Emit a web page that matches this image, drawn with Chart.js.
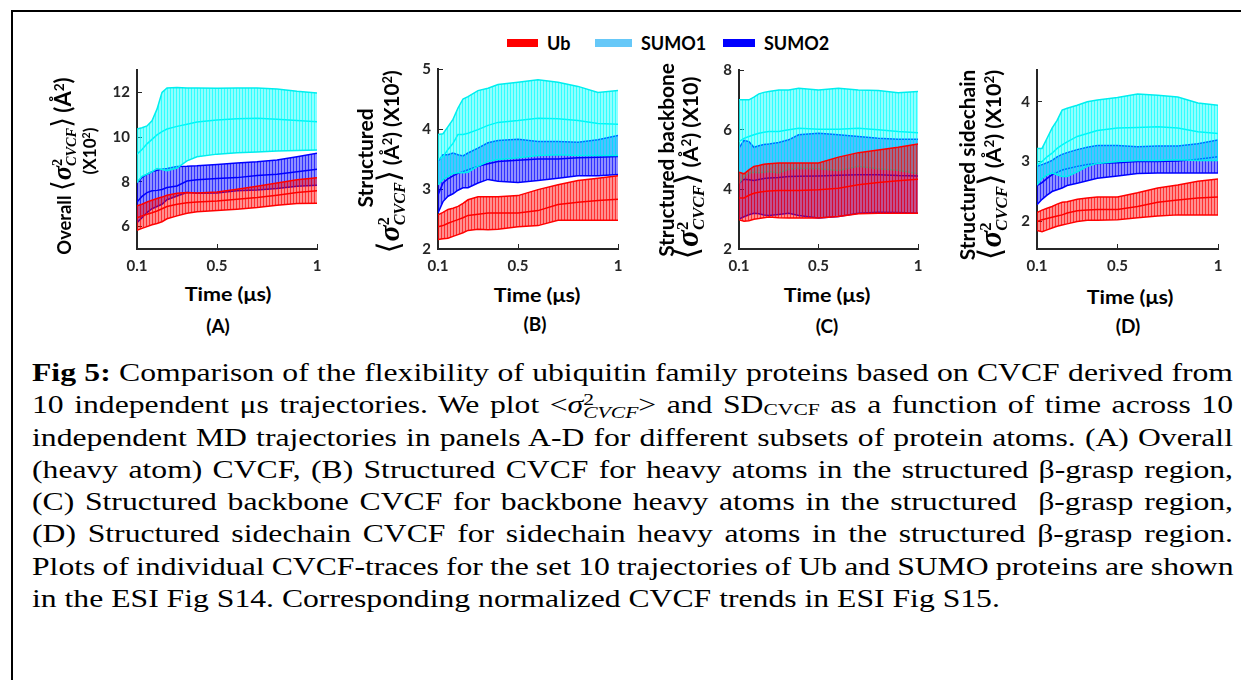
<!DOCTYPE html>
<html>
<head>
<meta charset="utf-8">
<script src="https://cdn.jsdelivr.net/npm/chart.js@4.4.0/dist/chart.umd.min.js"></script>
<style>
  body { margin:0; width:1241px; height:680px; background:#fff; position:relative; overflow:hidden;
         font-family: Lato, "DejaVu Sans", sans-serif; }
  .frame { position:absolute; left:11px; top:10px; right:-10px; bottom:-10px;
           border-top:2px solid #000; border-left:2px solid #000; }
  canvas.panel { position:absolute; }
  .ytitle { position:absolute; width:260px; transform:translate(-50%,-50%) rotate(-90deg); white-space:nowrap;
            text-align:center; font-weight:bold; color:#000; font-size:20px; }
  .yl { text-align:center; }
  .fit { display:inline-block; white-space:nowrap; position:relative; }
  .ctr { position:absolute; transform:translate(-50%,-50%); white-space:nowrap;
         font-weight:bold; font-size:19px; color:#000; }
  .ang { font-family:"DejaVu Sans"; font-weight:normal; font-size:1.5em; line-height:0; }
  .sg { font-family:"Liberation Serif"; font-style:italic; font-weight:bold; font-size:1.45em; line-height:0; }
  .sp { font-family:"Liberation Serif"; font-weight:bold; font-size:0.78em; position:relative; top:-0.6em;
        margin-right:-0.5em; line-height:0; }
  .ss { font-family:"Liberation Serif"; font-style:italic; font-weight:bold; font-size:0.78em;
        position:relative; top:0.35em; line-height:0; }
  .up { font-size:0.62em; position:relative; top:-0.55em; line-height:0; }
  .big { font-size:1.2em; line-height:0; }
  .legend { position:absolute; top:33px; left:0; height:20px; }
  .litem { position:absolute; top:0; height:20px; display:flex; align-items:center;
           font-weight:bold; font-size:18px; color:#000; white-space:nowrap; }
  .sw { display:inline-block; height:8px; margin-right:9px; }
  .caption { position:absolute; left:32px; top:357px; transform-origin:0 0;
             font-family:"Liberation Serif", serif; font-size:25px; color:#000; }
  .cl { height:32.3px; line-height:32.3px; white-space:nowrap; text-align:left; }
  .csg { font-style:italic; }
  .csp { font-size:0.68em; position:relative; top:-0.48em; margin-right:-0.5em; line-height:0; }
  .css { font-style:italic; font-size:0.68em; position:relative; top:0.3em; line-height:0; }
  .sd { font-size:0.68em; position:relative; top:0.12em; }
</style>
</head>
<body>
<div class="frame"></div>
<div class="legend" id="legend"></div>
<div id="panels"></div>
<div class="caption" id="caption">
  <div class="cl"><span><b>Fig 5:</b> Comparison of the flexibility of ubiquitin family proteins based on CVCF derived from</span></div>
  <div class="cl"><span>10 independent μs trajectories. We plot &lt;<span class="csg">σ</span><span class="csp">2</span><span class="css">CVCF</span>&gt; and SD<span class="sd">CVCF</span> as a function of time across 10</span></div>
  <div class="cl"><span>independent MD trajectories in panels A-D for different subsets of protein atoms. (A) Overall</span></div>
  <div class="cl"><span>(heavy atom) CVCF, (B) Structured CVCF for heavy atoms in the structured β-grasp region,</span></div>
  <div class="cl"><span>(C) Structured backbone CVCF for backbone heavy atoms in the structured &nbsp;β-grasp region,</span></div>
  <div class="cl"><span>(D) Structured sidechain CVCF for sidechain heavy atoms in the structured β-grasp region.</span></div>
  <div class="cl"><span>Plots of individual CVCF-traces for the set 10 trajectories of Ub and SUMO proteins are shown</span></div>
  <div class="cl"><span>in the ESI Fig S14. Corresponding normalized CVCF trends in ESI Fig S15.</span></div>
</div>

<script>
// ---- data ----
const timeUs = [0.1, 0.125, 0.15, 0.175, 0.2, 0.225, 0.25, 0.3, 0.35, 0.4, 0.5, 0.6, 0.7, 0.8, 0.9, 1.0];
const seriesNames = ["Ub", "SUMO1", "SUMO2"];
const xTicks = [0.1, 0.5, 1];

// (A) Overall
const aUbMean = [6.40, 6.48, 6.55, 6.62, 6.70, 6.80, 6.90, 7.00, 7.07, 7.10, 7.15, 7.22, 7.30, 7.40, 7.52, 7.60];
const aUbUp   = [6.93, 7.00, 7.10, 7.18, 7.26, 7.32, 7.40, 7.49, 7.52, 7.50, 7.55, 7.67, 7.80, 7.95, 8.10, 8.19];
const aUbLow  = [5.84, 5.92, 6.00, 6.08, 6.14, 6.22, 6.35, 6.48, 6.60, 6.66, 6.72, 6.78, 6.85, 6.95, 7.03, 7.05];
const aS1Mean = [9.24, 9.45, 9.70, 9.90, 10.10, 10.25, 10.36, 10.48, 10.58, 10.68, 10.76, 10.82, 10.84, 10.80, 10.74, 10.69];
const aS1Up   = [10.36, 10.42, 10.50, 10.73, 11.25, 12.00, 12.20, 12.22, 12.20, 12.20, 12.18, 12.20, 12.20, 12.15, 12.05, 11.97];
const aS1Low  = [7.97, 8.25, 8.34, 8.45, 8.60, 8.55, 8.50, 8.62, 8.94, 9.12, 9.24, 9.30, 9.34, 9.38, 9.40, 9.42];
const aS2Mean = [7.10, 7.35, 7.52, 7.60, 7.62, 7.66, 7.75, 7.82, 8.04, 8.10, 8.15, 8.19, 8.28, 8.34, 8.45, 8.57];
const aS2Up   = [7.97, 8.20, 8.34, 8.45, 8.52, 8.57, 8.60, 8.69, 8.70, 8.72, 8.78, 8.84, 8.90, 8.98, 9.12, 9.28];
const aS2Low  = [6.18, 6.40, 6.63, 6.80, 6.90, 7.00, 7.20, 7.37, 7.52, 7.49, 7.50, 7.60, 7.64, 7.70, 7.80, 7.85];

// (B) Structured
const bUbMean = [2.37, 2.39, 2.43, 2.46, 2.49, 2.52, 2.56, 2.58, 2.60, 2.60, 2.60, 2.64, 2.74, 2.78, 2.81, 2.83];
const bUbUp   = [2.57, 2.61, 2.66, 2.68, 2.71, 2.76, 2.82, 2.87, 2.87, 2.87, 2.89, 2.99, 3.07, 3.14, 3.18, 3.22];
const bUbLow  = [2.16, 2.17, 2.18, 2.21, 2.24, 2.27, 2.31, 2.33, 2.32, 2.33, 2.37, 2.39, 2.48, 2.48, 2.48, 2.48];
const bS1Mean = [3.49, 3.54, 3.66, 3.76, 3.91, 3.91, 3.93, 3.99, 4.06, 4.11, 4.14, 4.18, 4.17, 4.14, 4.09, 4.08];
const bS1Up   = [3.91, 3.92, 4.04, 4.16, 4.35, 4.50, 4.54, 4.64, 4.68, 4.74, 4.78, 4.82, 4.78, 4.71, 4.61, 4.64];
const bS1Low  = [3.07, 3.16, 3.21, 3.26, 3.27, 3.27, 3.28, 3.38, 3.46, 3.49, 3.52, 3.56, 3.57, 3.56, 3.56, 3.56];
const bS2Mean = [2.90, 3.10, 3.17, 3.22, 3.26, 3.29, 3.32, 3.38, 3.42, 3.46, 3.48, 3.50, 3.50, 3.52, 3.53, 3.54];
const bS2Up   = [3.46, 3.57, 3.57, 3.60, 3.57, 3.55, 3.60, 3.68, 3.77, 3.81, 3.83, 3.79, 3.79, 3.78, 3.82, 3.89];
const bS2Low  = [2.60, 2.79, 2.88, 2.92, 2.98, 3.02, 3.02, 3.10, 3.16, 3.13, 3.11, 3.14, 3.18, 3.22, 3.22, 3.24];

// (C) Structured backbone
const cUbMean = [3.71, 3.71, 3.80, 3.87, 3.90, 3.93, 3.94, 3.96, 3.96, 3.96, 3.99, 4.04, 4.15, 4.23, 4.29, 4.34];
const cUbUp   = [4.57, 4.52, 4.65, 4.77, 4.80, 4.84, 4.86, 4.88, 4.88, 4.88, 4.88, 5.08, 5.23, 5.32, 5.41, 5.52];
const cUbLow  = [2.98, 2.93, 2.95, 3.00, 3.02, 3.05, 3.07, 3.05, 3.04, 3.04, 3.04, 3.09, 3.18, 3.20, 3.20, 3.20];
const cS1Mean = [5.60, 5.71, 5.77, 5.83, 5.88, 5.91, 5.94, 5.94, 6.00, 6.05, 6.01, 6.01, 6.05, 6.00, 5.94, 5.90];
const cS1Up   = [7.00, 7.00, 7.00, 7.09, 7.20, 7.25, 7.28, 7.33, 7.33, 7.39, 7.33, 7.39, 7.33, 7.31, 7.24, 7.28];
const cS1Low  = [4.20, 4.42, 4.54, 4.57, 4.56, 4.57, 4.60, 4.55, 4.67, 4.71, 4.69, 4.63, 4.77, 4.69, 4.64, 4.52];
const cS2Mean = [4.20, 4.34, 4.32, 4.30, 4.33, 4.36, 4.38, 4.40, 4.43, 4.44, 4.45, 4.47, 4.49, 4.49, 4.46, 4.45];
const cS2Up   = [5.38, 5.64, 5.60, 5.41, 5.46, 5.50, 5.52, 5.57, 5.66, 5.83, 5.88, 5.83, 5.77, 5.71, 5.68, 5.68];
const cS2Low  = [3.00, 3.08, 3.15, 3.20, 3.18, 3.14, 3.12, 3.16, 3.20, 3.12, 3.04, 3.09, 3.20, 3.23, 3.22, 3.20];

// (D) Structured sidechain
const dUbMean = [2.00, 2.03, 2.05, 2.07, 2.09, 2.11, 2.14, 2.18, 2.19, 2.20, 2.20, 2.25, 2.32, 2.36, 2.39, 2.41];
const dUbUp   = [2.15, 2.19, 2.22, 2.25, 2.29, 2.32, 2.33, 2.37, 2.39, 2.41, 2.41, 2.48, 2.56, 2.61, 2.67, 2.71];
const dUbLow  = [1.85, 1.83, 1.86, 1.89, 1.92, 1.94, 1.96, 2.00, 2.02, 2.02, 2.03, 2.06, 2.09, 2.11, 2.11, 2.11];
const dS1Mean = [2.94, 3.00, 3.08, 3.14, 3.22, 3.28, 3.33, 3.42, 3.47, 3.52, 3.56, 3.57, 3.58, 3.56, 3.50, 3.47];
const dS1Up   = [3.22, 3.22, 3.39, 3.56, 3.69, 3.86, 3.89, 3.94, 4.00, 4.03, 4.07, 4.13, 4.11, 4.08, 3.98, 3.94];
const dS1Low  = [2.61, 2.72, 2.78, 2.81, 2.78, 2.75, 2.75, 2.83, 2.92, 2.97, 3.00, 3.02, 3.02, 3.03, 3.02, 3.02];
const dS2Mean = [2.60, 2.65, 2.72, 2.78, 2.82, 2.86, 2.88, 2.92, 2.95, 2.97, 2.98, 3.00, 3.00, 3.01, 3.04, 3.08];
const dS2Up   = [2.92, 2.95, 2.98, 3.02, 3.08, 3.12, 3.15, 3.20, 3.24, 3.27, 3.27, 3.25, 3.26, 3.26, 3.30, 3.36];
const dS2Low  = [2.28, 2.37, 2.44, 2.50, 2.53, 2.56, 2.60, 2.64, 2.68, 2.72, 2.76, 2.80, 2.81, 2.81, 2.81, 2.81];

// ---- styles ----
const lineColors = ["#ff0000", "#00eeee", "#0000ff"];
const bandRGB = [[255, 0, 0], [0, 255, 255], [0, 0, 255]];
const legendColors = ["#ff0000", "#66c8f8", "#0000ff"];
const drawOrder = [0, 1, 2];   // Ub on top, SUMO2 at the bottom
const TXT = "#262626";

// error-bar look: thin vertical stripes over a half-transparent fill
function stripes(rgb) {
  let c = document.createElement("canvas");
  c.width = 3; c.height = 1;
  let g = c.getContext("2d");
  g.fillStyle = "rgba(" + rgb.join(",") + ",0.44)";
  g.fillRect(0, 0, 3, 1);
  g.fillStyle = "rgba(" + rgb.join(",") + ",0.66)";
  g.fillRect(0, 0, 1, 1);
  return g.createPattern(c, "repeat");
}

const MATH = '<span class="ang">⟨</span><span class="sg">σ</span><span class="sp">2</span><span class="ss">CVCF</span><span class="ang">⟩</span>';
const A2 = '(Å<span class="up">2</span>)';
const X102 = '(X10<span class="up">2</span>)';

// y titles: text lines, length of each line on the page, shift along the line, centre, line pitch
const panels = [
  { tag: "(A)", box: [137, 70, 317, 249], yMin: 5, yMax: 13, yTicks: [6, 8, 10, 12],
    series: [[aUbLow, aUbMean, aUbUp], [aS1Low, aS1Mean, aS1Up], [aS2Low, aS2Mean, aS2Up]],
    title: ["Overall " + MATH + ' <span class="big">' + A2 + "</span>", X102], tlen: [177, 47], tshift: [-6, 9],
    tpos: [76, 160], lh: 25, xt: [228, 293], pl: [218, 325] },
  { tag: "(B)", box: [438, 69, 618, 249], yMin: 2, yMax: 5, yTicks: [2, 3, 4, 5],
    series: [[bUbLow, bUbMean, bUbUp], [bS1Low, bS1Mean, bS1Up], [bS2Low, bS2Mean, bS2Up]],
    title: ["Structured", MATH + " " + A2 + " " + X102], tlen: [99, 183], tshift: [2, -2],
    tpos: [378, 160], lh: 27, xt: [537, 294], pl: [535, 323] },
  { tag: "(C)", box: [739, 70, 918, 249], yMin: 2, yMax: 8, yTicks: [2, 4, 6, 8],
    series: [[cUbLow, cUbMean, cUbUp], [cS1Low, cS1Mean, cS1Up], [cS2Low, cS2Mean, cS2Up]],
    title: ["Structured backbone", MATH + " " + A2 + " (X10)"], tlen: [194, 183], tshift: [4, -4],
    tpos: [678, 164], lh: 25, xt: [827, 294], pl: [827, 325] },
  { tag: "(D)", box: [1037, 70, 1218, 249], yMin: 1.54, yMax: 4.53, yTicks: [2, 3, 4],
    series: [[dUbLow, dUbMean, dUbUp], [dS1Low, dS1Mean, dS1Up], [dS2Low, dS2Mean, dS2Up]],
    title: ["Structured sidechain", MATH + " " + A2 + " " + X102], tlen: [190, 190], tshift: [0, 0],
    tpos: [980, 165], lh: 27, xt: [1130, 296], pl: [1128, 325] }
];

// ---- legend ----
const legendPos = [[507, 31], [595, 37], [723, 32]];
const legendEl = document.getElementById("legend");
seriesNames.forEach((name, i) => {
  let item = document.createElement("div");
  item.className = "litem";
  item.style.left = legendPos[i][0] + "px";
  item.innerHTML = '<span class="sw" style="width:' + legendPos[i][1] + 'px;background:' + legendColors[i] + '"></span>' + name;
  legendEl.appendChild(item);
});

// ---- panels ----
const holder = document.getElementById("panels");
const padL = 60, padT = 12, padR = 16, padB = 30;

function pts(ys) {
  return ys.map((y, i) => ({ x: timeUs[i], y: y }));
}

function addCentered(html, x, y, targetW) {
  let d = document.createElement("div");
  d.className = "ctr";
  d.innerHTML = html;
  d.style.left = x + "px";
  d.style.top = y + "px";
  holder.appendChild(d);
  if (targetW) {
    d.style.transform = "translate(-50%,-50%) scaleX(" + (targetW / d.offsetWidth).toFixed(3) + ")";
  }
}

function addYTitle(p) {
  let d = document.createElement("div");
  d.className = "ytitle";
  d.style.left = p.tpos[0] + "px";
  d.style.top = p.tpos[1] + "px";
  p.title.forEach((t, i) => {
    let row = document.createElement("div");
    row.className = "yl";
    row.style.height = p.lh + "px";
    row.style.lineHeight = p.lh + "px";
    row.innerHTML = '<span class="fit" style="left:' + p.tshift[i] + 'px">' + t + "</span>";
    d.appendChild(row);
  });
  holder.appendChild(d);
  d.querySelectorAll(".fit").forEach((s, i) => {
    s.style.fontSize = (20 * p.tlen[i] / s.offsetWidth).toFixed(2) + "px";
  });
}

panels.forEach((p) => {
  let w = p.box[2] - p.box[0], h = p.box[3] - p.box[1];
  let cv = document.createElement("canvas");
  cv.className = "panel";
  cv.width = w + padL + padR;
  cv.height = h + padT + padB;
  cv.style.left = (p.box[0] - padL) + "px";
  cv.style.top = (p.box[1] - padT) + "px";
  holder.appendChild(cv);

  let datasets = [];
  p.series.forEach((s, k) => {
    let base = datasets.length;
    let o = drawOrder[k];
    datasets.push({ label: seriesNames[k] + " low", data: pts(s[0]), borderColor: lineColors[k],
                    borderWidth: 1.5, fill: false, order: o });
    datasets.push({ label: seriesNames[k] + " high", data: pts(s[2]), borderColor: lineColors[k],
                    borderWidth: 1.5, backgroundColor: stripes(bandRGB[k]), fill: base, order: o });
    datasets.push({ label: seriesNames[k], data: pts(s[1]), borderColor: lineColors[k],
                    borderWidth: 1.5, fill: false, order: o });
  });

  const tickFont = { family: "Lato", weight: "bold", size: 15 };
  new Chart(cv, {
    type: "line",
    data: { datasets: datasets },
    options: {
      responsive: false, animation: false, devicePixelRatio: 1,
      layout: { padding: { top: padT, right: padR, left: 0, bottom: 0 } },
      plugins: { legend: { display: false }, tooltip: { enabled: false }, filler: { propagate: false } },
      elements: { point: { radius: 0 }, line: { tension: 0 } },
      scales: {
        x: {
          type: "linear", min: 0.1, max: 1,
          afterBuildTicks: (s) => { s.ticks = xTicks.map((v) => ({ value: v })); },
          afterFit: (s) => { s.height = padB; s.paddingLeft = 0; s.paddingRight = 0; },
          grid: { drawOnChartArea: false, drawTicks: true, tickLength: -5, color: TXT, lineWidth: 1 },
          border: { display: true, color: TXT, width: 2 },
          ticks: { padding: 13, color: TXT, font: tickFont, maxRotation: 0, autoSkip: false,
                   callback: (v) => String(v) }
        },
        y: {
          min: p.yMin, max: p.yMax,
          afterBuildTicks: (s) => { s.ticks = p.yTicks.map((v) => ({ value: v })); },
          afterFit: (s) => { s.width = padL; s.paddingTop = 0; s.paddingBottom = 0; },
          grid: { drawOnChartArea: false, drawTicks: true, tickLength: -5, color: TXT, lineWidth: 1 },
          border: { display: true, color: TXT, width: 2 },
          ticks: { padding: 12, color: TXT, font: tickFont, autoSkip: false, callback: (v) => String(v) }
        }
      }
    }
  });

  addYTitle(p);
  addCentered("Time (μs)", p.xt[0], p.xt[1], 87);
  addCentered(p.tag, p.pl[0], p.pl[1], 0);
});

// ---- caption: stretch to the reference width, then justify every line but the last ----
const cap = document.getElementById("caption");
const capW = 1201, lastW = 968;
const rows = Array.from(cap.querySelectorAll(".cl"));
const k = lastW / rows[rows.length - 1].firstElementChild.offsetWidth;
const inner = capW / k;
cap.style.width = inner + "px";
cap.style.transform = "scaleX(" + k.toFixed(4) + ")";
rows.forEach((r, i) => {
  if (i === rows.length - 1) return;
  let span = r.firstElementChild;
  let nat = span.offsetWidth;
  if (nat > inner) {
    let gaps = (span.textContent.match(/ /g) || []).length;
    span.style.wordSpacing = ((inner - nat) / gaps).toFixed(2) + "px";
  }
  r.style.textAlign = "justify";
  r.style.textAlignLast = "justify";
});
</script>
</body>
</html>
